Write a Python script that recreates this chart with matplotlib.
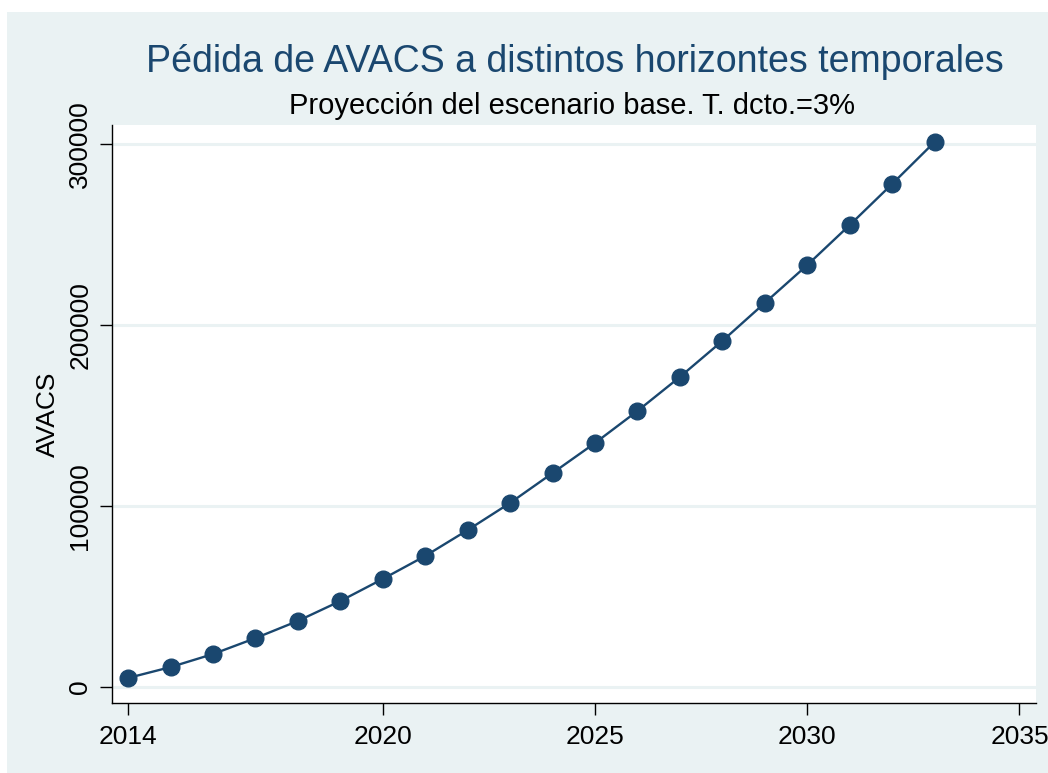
import matplotlib
matplotlib.use("Agg")
import matplotlib.pyplot as plt
from matplotlib.patches import Rectangle

# Data
years = list(range(2014, 2034))
avacs = [5000, 11000, 18200, 27000, 36500, 47500, 59700, 72400, 86700, 101700,
         118200, 134800, 152500, 171300, 191200, 212200, 233100, 255200, 277900, 301100]

x_ticks = [2014, 2020, 2025, 2030, 2035]
y_ticks = [0, 100000, 200000, 300000]

title = "Pédida de AVACS a distintos horizontes temporales"
subtitle = "Proyección del escenario base. T. dcto.=3%"

navy = "#1a476f"
bg = "#eaf2f3"

plt.rcParams["font.family"] = ["Liberation Sans", "DejaVu Sans"]

fig = plt.figure(figsize=(10.48, 7.73), dpi=100, facecolor="white")
# Stata-like light background panel, behind the axes
fig.patches.append(Rectangle((7 / 1048, 0), 1 - 7 / 1048, 1 - 12 / 773,
                             transform=fig.transFigure, facecolor=bg,
                             edgecolor="none", zorder=-10))

ax = fig.add_axes([112 / 1048, 70 / 773, 924 / 1048, 578 / 773])
ax.set_facecolor("white")

ax.plot(years, avacs, color=navy, lw=1.7, marker="o", markersize=12,
        markeredgecolor=navy, markerfacecolor=navy, zorder=3, clip_on=False)

ax.set_xlim(2013.62, 2035.39)
ax.set_ylim(-8840, 310500)
ax.set_xticks(x_ticks)
ax.set_yticks(y_ticks)
ax.set_yticklabels([str(v) for v in y_ticks], rotation=90, va="center")

ax.grid(axis="y", color=bg, lw=2.2)
ax.set_axisbelow(True)

for side in ["top", "right"]:
    ax.spines[side].set_visible(False)
for side in ["left", "bottom"]:
    ax.spines[side].set_color("black")
    ax.spines[side].set_linewidth(1.0)

ax.tick_params(axis="both", length=8.6, width=1, color="black", labelsize=19)
ax.tick_params(axis="y", pad=5.5)
ax.tick_params(axis="x", pad=7)
ax.set_ylabel("AVACS", fontsize=19, labelpad=6)

fig.text(575 / 1048, 1 - 62 / 773, title, ha="center", va="center",
         fontsize=27, color=navy)
fig.text(572 / 1048, 1 - 106 / 773, subtitle, ha="center", va="center",
         fontsize=21, color="black")

fig.savefig("out.png", dpi=100)
